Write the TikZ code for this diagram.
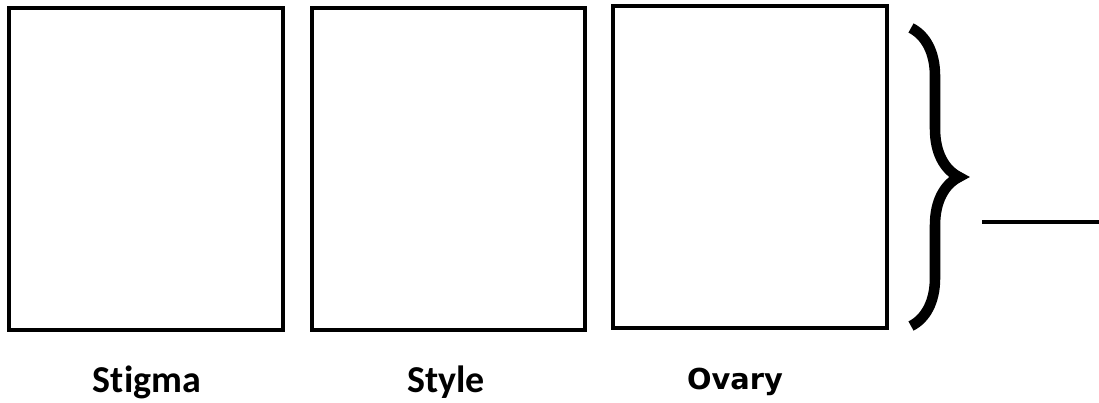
\documentclass[tikz,border=0pt]{standalone}
\usepackage{fontspec}
\setmainfont[Ligatures=NoCommon]{Carlito}
\newfontfamily\ovaryfont{DejaVu Sans}
\usetikzlibrary{decorations.pathreplacing}
\tikzset{
  part/.style={draw, line width=2.8pt, inner sep=0pt,
    minimum width=6.83cm, minimum height=8.05cm},
  partlabel/.style={font=\fontsize{27}{30}\selectfont\bfseries}
}
\begin{document}
\begin{tikzpicture}[x=0.025cm, y=-0.025cm]
\useasboundingbox (0,0) rectangle (1099,402);
% the three parts of the pistil
\node[part] (stigmabox) at (146,169) {};
\node[part] (stylebox) at (448.5,169) {};
\node[part] (ovarybox) at (750,167) {};
\node[partlabel] (stigma) at (147,382) {Stigma};
\node[partlabel] (style) at (446,382) {Style};
\node[partlabel, font=\ovaryfont\fontsize{20.5}{24}\selectfont\bfseries] (ovary) at (735,382) {Ovary};

% brace and blank line
\draw[line width=7.5pt, decorate, decoration={brace, amplitude=1.2cm}]
  (911,28) -- (911,326);
\coordinate (blankstart) at (982,222);
\coordinate (blankend) at (1099,222);
\draw[line width=2.8pt] (blankstart) -- (blankend);
\end{tikzpicture}
\end{document}
